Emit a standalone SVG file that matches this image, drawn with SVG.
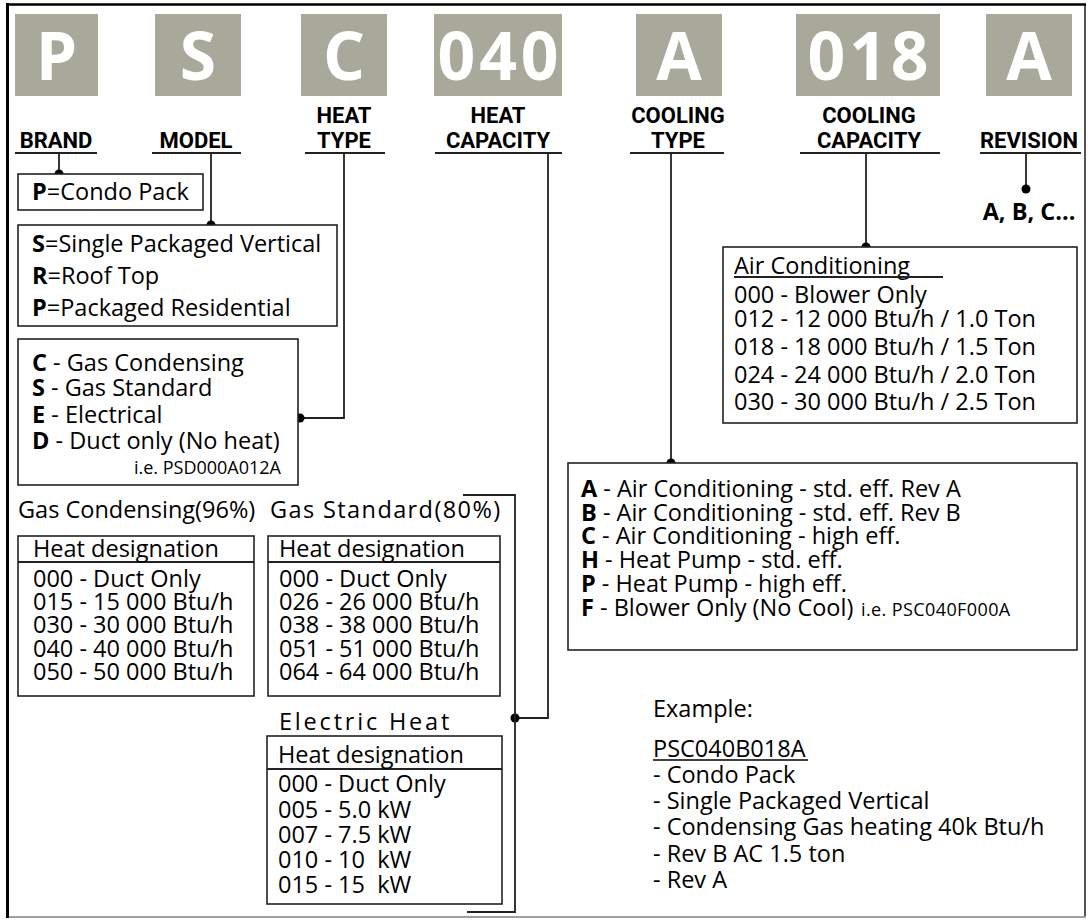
<svg xmlns="http://www.w3.org/2000/svg" width="1088" height="920" viewBox="0 0 1088 920">
<style>
.code{fill:#A8A89B}
.big{font-family:"Open Sans",sans-serif;font-weight:700;font-size:66px;fill:#fff;text-anchor:middle}
.hdr{font-family:Roboto,"Liberation Sans",sans-serif;font-weight:700;font-size:22px;text-anchor:middle;fill:#000}
.uline{stroke:#222;stroke-width:1.8}
.box{fill:#fff;stroke:#222;stroke-width:1.6}
.t{font-family:"Open Sans","Liberation Sans",sans-serif;font-size:23.5px;fill:#000}
.s{font-family:"Open Sans","Liberation Sans",sans-serif;font-size:18px;fill:#000}
.b{font-weight:700}
.wire{fill:none;stroke:#222;stroke-width:1.8}
.dot{fill:#000}
</style>
<rect x="0" y="0" width="1088" height="920" fill="#fff"/>
<g id="frame">
<line x1="1085" y1="4" x2="1085" y2="917" stroke="#555" stroke-width="2"/>
<line x1="7" y1="917" x2="1086" y2="917" stroke="#a0a0a0" stroke-width="2"/>
<line x1="7.5" y1="3" x2="7.5" y2="918" stroke="#000" stroke-width="3"/>
<line x1="6" y1="4.5" x2="1086" y2="4.5" stroke="#000" stroke-width="2.5"/>
</g>
<g id="code-brand"><rect class="code" x="15" y="14" width="83" height="82"/><text class="big" x="56.5" y="80">P</text>
<text class="hdr" x="56" y="148">BRAND</text><line class="uline" x1="15" y1="153" x2="97" y2="153"/></g>
<g id="code-model"><rect class="code" x="155" y="14" width="86" height="82"/><text class="big" x="198" y="80">S</text>
<text class="hdr" x="196" y="148">MODEL</text><line class="uline" x1="152" y1="153" x2="241" y2="153"/></g>
<g id="code-heattype"><rect class="code" x="301" y="14" width="86" height="82"/><text class="big" x="344" y="80">C</text>
<text class="hdr" x="344" y="123">HEAT</text><text class="hdr" x="344" y="148">TYPE</text><line class="uline" x1="305" y1="153" x2="385" y2="153"/></g>
<g id="code-heatcap"><rect class="code" x="434" y="14" width="128" height="82"/><text class="big" x="500" y="80" letter-spacing="4">040</text>
<text class="hdr" x="498" y="123">HEAT</text><text class="hdr" x="498" y="148">CAPACITY</text><line class="uline" x1="435" y1="153" x2="562" y2="153"/></g>
<g id="code-cooltype"><rect class="code" x="636" y="14" width="86" height="82"/><text class="big" x="679" y="80">A</text>
<text class="hdr" x="678" y="123">COOLING</text><text class="hdr" x="678" y="148">TYPE</text><line class="uline" x1="630" y1="153" x2="724" y2="153"/></g>
<g id="code-coolcap"><rect class="code" x="796" y="14" width="144" height="82"/><text class="big" x="870" y="80" letter-spacing="4">018</text>
<text class="hdr" x="869" y="123">COOLING</text><text class="hdr" x="869" y="148">CAPACITY</text><line class="uline" x1="800" y1="153" x2="940" y2="153"/></g>
<g id="code-revision"><rect class="code" x="986" y="14" width="86" height="82"/><text class="big" x="1029" y="80">A</text>
<text class="hdr" x="1029" y="148">REVISION</text><line class="uline" x1="980" y1="153" x2="1081" y2="153"/></g>

<g id="connectors">
<polyline class="wire" points="59,153 59,174"/>
<circle class="dot" cx="59" cy="174" r="4.5"/>
<polyline class="wire" points="211,153 211,225"/>
<circle class="dot" cx="211" cy="225" r="4.5"/>
<polyline class="wire" points="344,153 344,418 300,418"/>
<circle class="dot" cx="300" cy="418" r="4.5"/>
<polyline class="wire" points="548,153 548,718 515,718"/>
<circle class="dot" cx="515" cy="718" r="4.5"/>
<polyline class="wire" points="463,495 515,495 515,912 467,912"/>
<polyline class="wire" points="671,153 671,463"/>
<circle class="dot" cx="671" cy="463" r="4.5"/>
<polyline class="wire" points="866,153 866,247"/>
<circle class="dot" cx="866" cy="247" r="4.5"/>
<polyline class="wire" points="1026,153 1026,189"/>
<circle class="dot" cx="1026" cy="189" r="4.5"/>
</g>

<g id="brand-box"><rect class="box" x="18" y="174" width="185" height="36"/>
<text class="t" x="32" y="200"><tspan class="b">P</tspan>=Condo Pack</text></g>

<g id="model-box"><rect class="box" x="18" y="225" width="319" height="101"/>
<text class="t" x="32" y="252"><tspan class="b">S</tspan>=Single Packaged Vertical</text>
<text class="t" x="32" y="284"><tspan class="b">R</tspan>=Roof Top</text>
<text class="t" x="32" y="316"><tspan class="b">P</tspan>=Packaged Residential</text></g>

<g id="heattype-box"><rect class="box" x="18" y="339" width="280" height="146"/>
<text class="t" x="32" y="371"><tspan class="b">C</tspan> - Gas Condensing</text>
<text class="t" x="32" y="396"><tspan class="b">S</tspan> - Gas Standard</text>
<text class="t" x="32" y="423"><tspan class="b">E</tspan> - Electrical</text>
<text class="t" x="32" y="449"><tspan class="b">D</tspan> - Duct only (No heat)</text>
<text class="s" x="281" y="474" text-anchor="end">i.e. PSD000A012A</text></g>

<g id="gas-condensing">
<text class="t" x="18" y="518">Gas Condensing(96%)</text>
<rect class="box" x="18" y="536" width="236" height="160"/>
<line class="uline" x1="18" y1="562" x2="254" y2="562"/>
<text class="t" x="33" y="557">Heat designation</text>
<text class="t" x="33" y="587">000 - Duct Only</text>
<text class="t" x="33" y="610">015 - 15 000 Btu/h</text>
<text class="t" x="33" y="633">030 - 30 000 Btu/h</text>
<text class="t" x="33" y="657">040 - 40 000 Btu/h</text>
<text class="t" x="33" y="680">050 - 50 000 Btu/h</text>
</g>

<g id="gas-standard">
<text class="t" x="270" y="518" letter-spacing="1.4">Gas Standard(80%)</text>
<rect class="box" x="268" y="536" width="232" height="160"/>
<line class="uline" x1="268" y1="562" x2="500" y2="562"/>
<text class="t" x="279" y="557">Heat designation</text>
<text class="t" x="279" y="587">000 - Duct Only</text>
<text class="t" x="279" y="610">026 - 26 000 Btu/h</text>
<text class="t" x="279" y="633">038 - 38 000 Btu/h</text>
<text class="t" x="279" y="657">051 - 51 000 Btu/h</text>
<text class="t" x="279" y="680">064 - 64 000 Btu/h</text>
</g>

<g id="electric-heat">
<text class="t" x="279" y="730" letter-spacing="2.8">Electric Heat</text>
<rect class="box" x="267" y="736" width="235" height="168"/>
<line class="uline" x1="267" y1="769" x2="502" y2="769"/>
<text class="t" x="278" y="763">Heat designation</text>
<text class="t" x="278" y="792">000 - Duct Only</text>
<text class="t" x="278" y="818">005 - 5.0 kW</text>
<text class="t" x="278" y="843">007 - 7.5 kW</text>
<text class="t" x="278" y="868" xml:space="preserve">010 - 10  kW</text>
<text class="t" x="278" y="893" xml:space="preserve">015 - 15  kW</text>
</g>

<g id="revision-values"><text class="t b" x="1029" y="220" text-anchor="middle">A, B, C...</text></g>

<g id="cooling-capacity-box"><rect class="box" x="723" y="247" width="354" height="176"/>
<text class="t" x="734" y="274">Air Conditioning</text>
<line class="uline" x1="734" y1="277" x2="943" y2="277" stroke-width="1.5"/>
<text class="t" x="734" y="303">000 - Blower Only</text>
<text class="t" x="734" y="327">012 - 12 000 Btu/h / 1.0 Ton</text>
<text class="t" x="734" y="355">018 - 18 000 Btu/h / 1.5 Ton</text>
<text class="t" x="734" y="383">024 - 24 000 Btu/h / 2.0 Ton</text>
<text class="t" x="734" y="410">030 - 30 000 Btu/h / 2.5 Ton</text>
</g>

<g id="cooling-type-box"><rect class="box" x="568" y="463" width="509" height="187"/>
<text class="t" x="581" y="497"><tspan class="b">A</tspan> - Air Conditioning - std. eff. Rev A</text>
<text class="t" x="581" y="521"><tspan class="b">B</tspan> - Air Conditioning - std. eff. Rev B</text>
<text class="t" x="581" y="544"><tspan class="b">C</tspan> - Air Conditioning - high eff.</text>
<text class="t" x="581" y="568"><tspan class="b">H</tspan> - Heat Pump - std. eff.</text>
<text class="t" x="581" y="592"><tspan class="b">P</tspan> - Heat Pump - high eff.</text>
<text class="t" x="581" y="616"><tspan class="b">F</tspan> - Blower Only (No Cool)</text>
<text class="s" x="861" y="616" font-size="21" letter-spacing="0.4">i.e. PSC040F000A</text>
</g>

<g id="example">
<text class="t" x="653" y="717">Example:</text>
<text class="t" x="653" y="757">PSC040B018A</text>
<line x1="653" y1="760" x2="808" y2="760" stroke="#000" stroke-width="1.5"/>
<text class="t" x="653" y="783">- Condo Pack</text>
<text class="t" x="653" y="809">- Single Packaged Vertical</text>
<text class="t" x="653" y="835">- Condensing Gas heating 40k Btu/h</text>
<text class="t" x="653" y="862">- Rev B AC 1.5 ton</text>
<text class="t" x="653" y="888">- Rev A</text>
</g>
</svg>
